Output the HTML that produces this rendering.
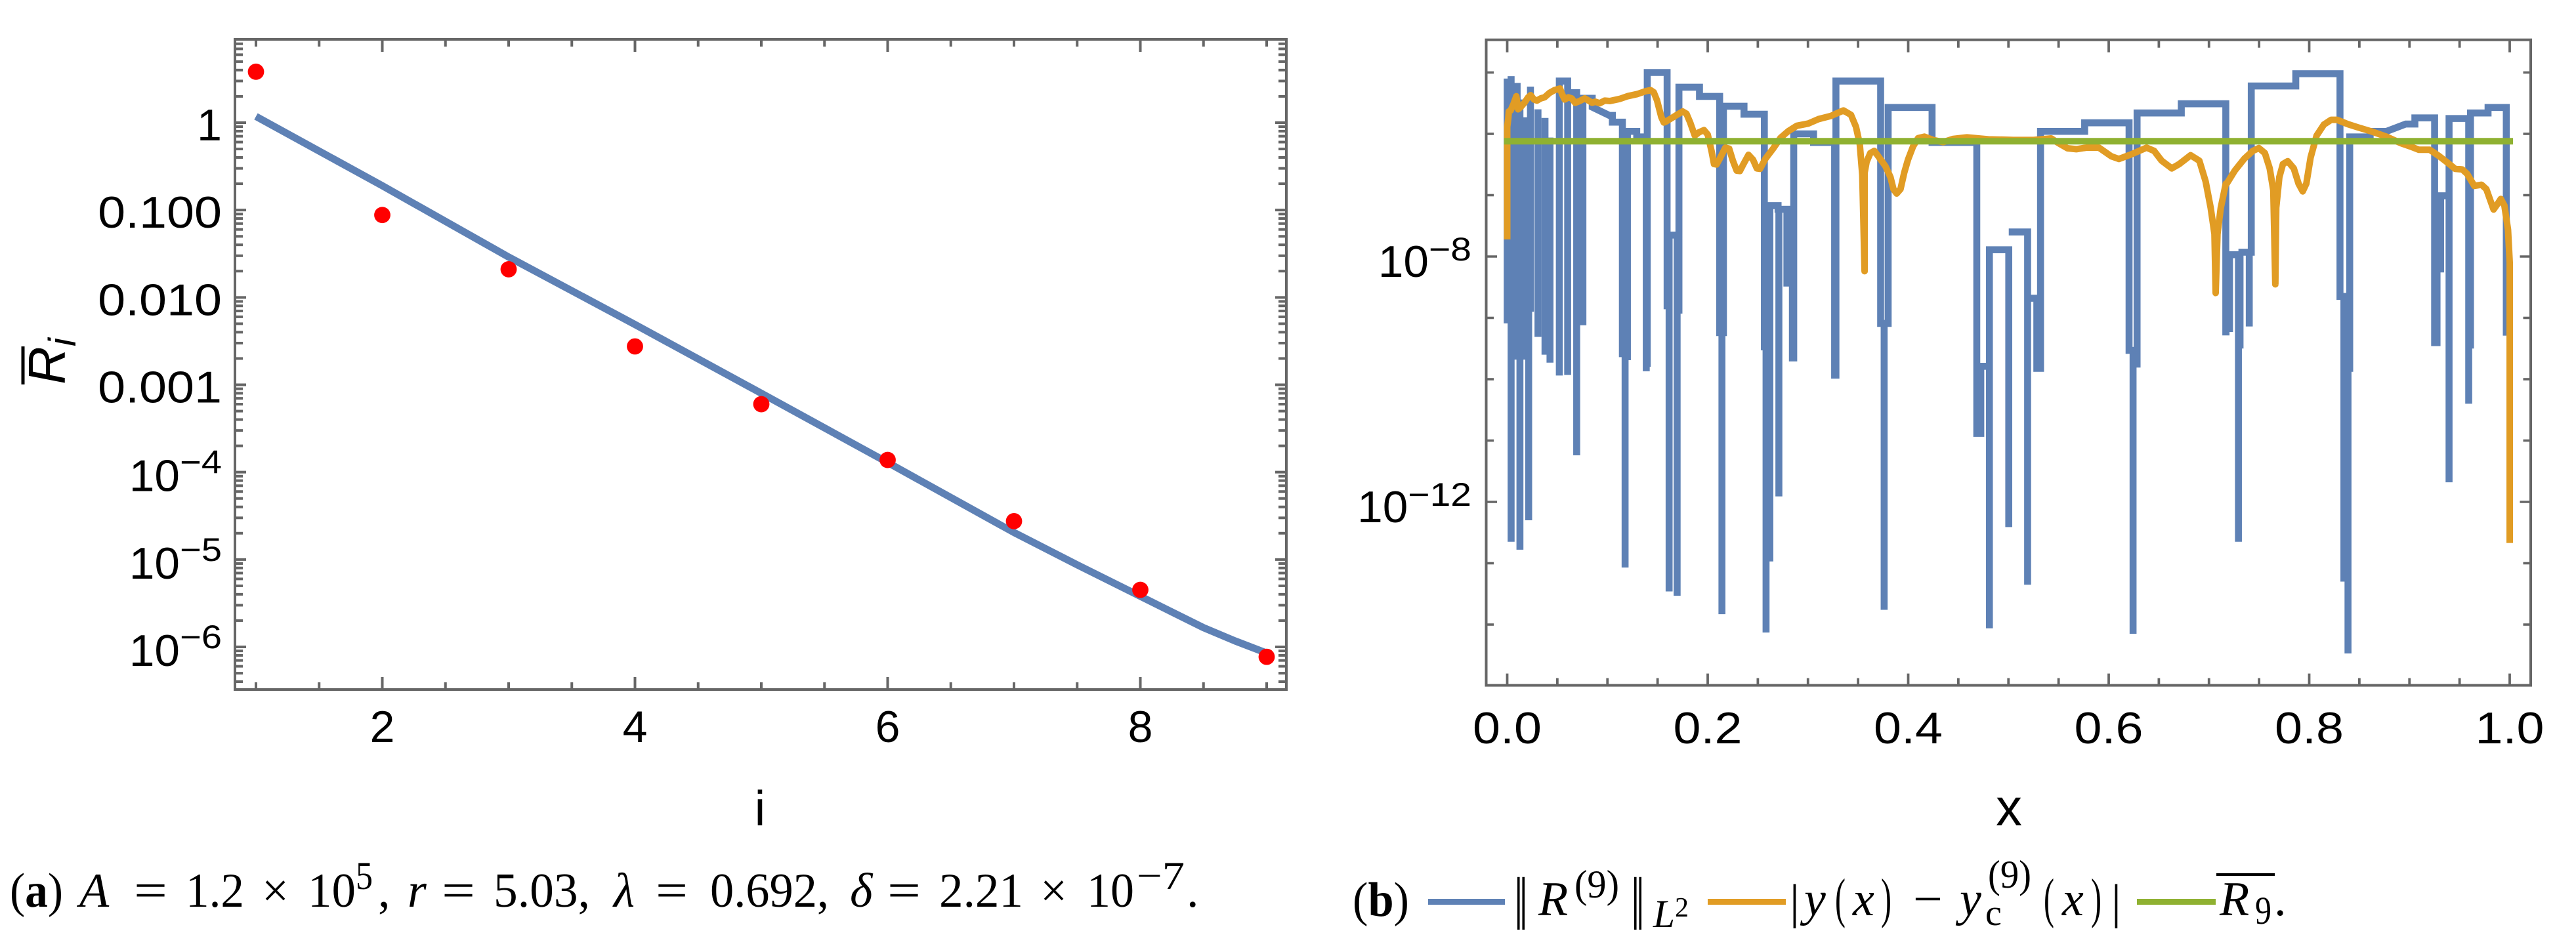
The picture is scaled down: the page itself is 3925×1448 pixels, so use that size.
<!DOCTYPE html>
<html lang="en">
<head>
<meta charset="utf-8">
<title>Residual decay and error charts</title>
<style>
html,body{margin:0;padding:0;background:#fff;width:3925px;height:1448px;overflow:hidden}
svg{position:absolute;left:0;top:0;display:block}
.cap{font-family:"Liberation Serif",serif;font-size:74px;fill:#000}
.it{font-style:italic}
</style>
</head>
<body>
<svg id="fig" xmlns="http://www.w3.org/2000/svg" width="3925" height="1448" viewBox="0 0 3925 1448">
<rect x="0" y="0" width="3925" height="1448" fill="#fff"/>
<g id="panelA"></g>
<g id="panelB"></g>

<g transform="translate(99,586) rotate(-90)">
  <line x1="0" x2="58" y1="-64" y2="-64" stroke="#000" stroke-width="5"/>
  <text x="0" y="0" font-family="'Liberation Sans',sans-serif" font-style="italic" font-size="80">R</text>
  <text x="58" y="16" font-family="'Liberation Sans',sans-serif" font-style="italic" font-size="58">i</text>
</g>
<text x="1158" y="1258" text-anchor="middle" font-family="'Liberation Sans',sans-serif" font-size="75">i</text>
<text x="3061" y="1258" text-anchor="middle" font-family="'Liberation Sans',sans-serif" font-size="80">x</text>

<g class="cap">
  <text x="15" y="1382" textLength="81" lengthAdjust="spacingAndGlyphs">(<tspan font-weight="bold">a</tspan>)</text>
  <text x="121" y="1382" class="it">A</text>
  <text x="204" y="1382" textLength="51" lengthAdjust="spacingAndGlyphs">=</text>
  <text x="283" y="1382" textLength="89" lengthAdjust="spacingAndGlyphs">1.2</text>
  <text x="399" y="1382" textLength="41" lengthAdjust="spacingAndGlyphs">×</text>
  <text x="469" y="1382" textLength="73" lengthAdjust="spacingAndGlyphs">10</text>
  <text x="542" y="1355" font-size="60" textLength="26" lengthAdjust="spacingAndGlyphs">5</text>
  <text x="576" y="1382">,</text>
  <text x="621" y="1382" class="it">r</text>
  <text x="673" y="1382" textLength="51" lengthAdjust="spacingAndGlyphs">=</text>
  <text x="752" y="1382" textLength="147" lengthAdjust="spacingAndGlyphs">5.03,</text>
  <text x="935" y="1382" class="it">λ</text>
  <text x="999" y="1382" textLength="49" lengthAdjust="spacingAndGlyphs">=</text>
  <text x="1082" y="1382" textLength="181" lengthAdjust="spacingAndGlyphs">0.692,</text>
  <text x="1295" y="1382" class="it">δ</text>
  <text x="1352" y="1382" textLength="51" lengthAdjust="spacingAndGlyphs">=</text>
  <text x="1431" y="1382" textLength="128" lengthAdjust="spacingAndGlyphs">2.21</text>
  <text x="1585" y="1382" textLength="41" lengthAdjust="spacingAndGlyphs">×</text>
  <text x="1656" y="1382" textLength="72" lengthAdjust="spacingAndGlyphs">10</text>
  <text x="1732" y="1355" font-size="60" textLength="73" lengthAdjust="spacingAndGlyphs">−7</text>
  <text x="1808" y="1382">.</text>
</g>

<g class="cap">
  <text x="2061" y="1396" textLength="86" lengthAdjust="spacingAndGlyphs">(<tspan font-weight="bold">b</tspan>)</text>
  <line x1="2176" x2="2293" y1="1374.5" y2="1374.5" stroke="#5E81B5" stroke-width="9"/>
  <text x="2307" y="1417" font-size="115" textLength="21" lengthAdjust="spacingAndGlyphs">‖</text>
  <text x="2344" y="1395" class="it">R</text>
  <text x="2399" y="1368" font-size="60" textLength="68" lengthAdjust="spacingAndGlyphs">(9)</text>
  <text x="2485" y="1417" font-size="115" textLength="21" lengthAdjust="spacingAndGlyphs">‖</text>
  <text x="2519" y="1413" font-size="60" class="it" textLength="33" lengthAdjust="spacingAndGlyphs">L</text>
  <text x="2552" y="1397" font-size="42">2</text>
  <line x1="2602" x2="2721" y1="1374.5" y2="1374.5" stroke="#E19C24" stroke-width="9"/>
  <text x="2727" y="1399">|</text>
  <text x="2749" y="1395" class="it">y</text>
  <text x="2796" y="1397" font-size="84" textLength="16" lengthAdjust="spacingAndGlyphs">(</text>
  <text x="2823" y="1395" class="it">x</text>
  <text x="2866" y="1397" font-size="84" textLength="16" lengthAdjust="spacingAndGlyphs">)</text>
  <text x="2915" y="1395" textLength="45" lengthAdjust="spacingAndGlyphs">−</text>
  <text x="2986" y="1395" class="it">y</text>
  <text x="3025" y="1410" font-size="56">c</text>
  <text x="3029" y="1353" font-size="60" textLength="66" lengthAdjust="spacingAndGlyphs">(9)</text>
  <text x="3114" y="1397" font-size="84" textLength="16" lengthAdjust="spacingAndGlyphs">(</text>
  <text x="3142" y="1395" class="it">x</text>
  <text x="3186" y="1397" font-size="84" textLength="16" lengthAdjust="spacingAndGlyphs">)</text>
  <text x="3217" y="1399">|</text>
  <line x1="3256" x2="3376" y1="1374.5" y2="1374.5" stroke="#8FB131" stroke-width="9"/>
  <line x1="3377" x2="3466" y1="1333" y2="1333" stroke="#000" stroke-width="4"/>
  <text x="3382" y="1395" class="it">R</text>
  <text x="3436" y="1408" font-size="60" textLength="25" lengthAdjust="spacingAndGlyphs">9</text>
  <text x="3465" y="1395">.</text>
</g>
</svg>

<script>
// Panel (a) data
const pointIndex = [1, 2, 3, 4, 5, 6, 7, 8, 9];
const pointValue = [3.83, 0.0878, 0.021, 0.00275, 0.0006, 0.000138, 0.0000275, 0.0000045, 0.00000077];
const curveIndex = [1, 2, 3, 4, 5, 6, 7, 7.5, 8, 8.25, 8.5, 8.75, 9];
const curveValue = [1.18, 0.19, 0.029, 0.0049, 0.0008, 0.000129, 0.0000204, 0.0000087, 0.0000038, 0.00000251, 0.00000166, 0.00000117, 0.00000085];
const aXMajor = [2, 4, 6, 8];
const aXMinor = [1, 1.5, 2.5, 3, 3.5, 4.5, 5, 5.5, 6.5, 7, 7.5, 8.5, 9];
const aYMajor = [0, -1, -2, -3, -4, -5, -6];
const aYBase = ['1', '0.100', '0.010', '0.001', '10', '10', '10'];
const aYPower = ['', '', '', '', '−4', '−5', '−6'];

// Panel (b) data: residual step line (log10), null breaks the line
const stepX = [
0,0,.0039,null,
.0039,.0039,null,
.0099,.0099,null,
.0127,.0127,null,
.0172,.0172,null,
.0214,.0214,null,
.0232,.0232,null,
.0307,.0307,null,
.0377,.0377,null,
.0427,.0427,null,
.052,.052,.0603,.0603,null,
.0603,.0693,.0693,null,
.0693,.0848,.0848,.1019,.1049,.1049,.1149,.1149,null,
.0755,.0755,null,
.1176,.1176,null,
.1199,.1199,null,
.1149,.1292,.1292,.1387,.1387,null,
.1397,.1397,.1595,.1595,null,
.1615,.1615,null,
.1595,.1713,null,
.1695,.1695,null,
.1713,.1713,.1918,.1918,.2119,.2119,.2157,.2157,.2362,.2362,.2565,.2565,null,
.2142,.2142,null,
.2582,.2582,null,
.262,.262,null,
.2565,.2702,.2702,.279,.279,null,
.271,.271,null,
.2845,.2845,null,
.2858,.2858,.3056,.3056,.3266,.3266,null,
.3279,.3279,.3725,.3725,.38,.38,.4238,.4238,.4684,.4684,null,
.376,.376,null,
.4724,.4724,null,
.4684,.481,null,
.481,.481,.5003,.5003,null,
.5003,.5191,.5191,null,
.5191,.5283,.5283,null,
.532,.532,.576,.576,.6203,.6203,.6283,.6283,.6724,.6724,.7168,.7168,.7205,null,
.6283,.6283,null,
.6243,.6243,null,
.7205,.7205,null,
.7168,.7294,null,
.7294,.7294,null,
.731,.731,null,
.7402,.7402,null,
.7294,.7422,.7422,.7866,.7866,.8307,.8307,.8404,.8404,.8608,.8608,.8771,.8963,.9054,.9054,.9251,.9251,null,
.8346,.8346,null,
.8387,.8387,null,
.8404,.8404,null,
.9275,.9275,.9395,.9395,.9395,.9591,.9591,null,
.9311,.9311,null,
.9609,.9609,.9784,.9784,.9966,.9966
];
const stepLog = [
-9.09,-5.155,-5.155,null,
-5.06,-12.65,null,
-5.17,-9.68,null,
-5.44,-12.78,null,
-5.73,-9.68,null,
-6.0,-12.30,null,
-5.23,-8.9,null,
-5.60,-9.31,null,
-5.74,-9.60,null,
-6.06,-9.73,null,
-9.94,-5.14,-5.14,-9.93,null,
-5.33,-5.33,-11.24,null,
-5.42,-5.42,-5.565,-5.70,-5.70,-5.81,-5.81,-9.64,null,
-5.42,-9.12,null,
-5.96,-13.07,null,
-5.96,-9.69,null,
-5.96,-5.96,-6.05,-6.05,-9.87,null,
-9.8,-5.0,-5.0,-8.86,null,
-7.65,-13.46,null,
-7.65,-7.65,null,
-7.65,-13.53,null,
-8.93,-5.24,-5.24,-5.39,-5.39,-9.24,-9.24,-5.55,-5.55,-5.68,-5.68,-9.53,null,
-9.24,-13.83,null,
-7.17,-14.13,null,
-7.17,-12.97,null,
-7.17,-7.17,-7.23,-7.23,-8.49,null,
-7.2,-11.91,null,
-8,-9.71,null,
-9.71,-6.0,-6.0,-6.14,-6.14,-9.99,null,
-9.99,-5.14,-5.14,-9.09,-9.09,-5.57,-5.57,-6.14,-6.14,-10.94,null,
-9.09,-13.76,null,
-9.79,-10.94,null,
-9.79,-9.79,null,
-14.06,-7.89,-7.89,-12.41,null,
-7.60,-7.60,-13.35,null,
-8.68,-8.68,-9.88,null,
-9.88,-5.96,-5.96,-5.82,-5.82,-9.53,-9.53,-5.66,-5.66,-5.51,-5.51,-9.23,-9.23,null,
-9.53,-9.81,null,
-9.53,-14.15,null,
-7.97,-9.23,null,
-7.97,-7.97,null,
-7.93,-12.65,null,
-7.93,-9.5,null,
-7.9,-9.14,null,
-7.93,-7.93,-5.22,-5.22,-5.02,-5.02,-8.65,-8.65,-6.05,-6.05,-5.96,-5.96,-5.84,-5.84,-5.74,-5.74,-9.46,null,
-8.65,-13.30,null,
-8.65,-14.47,null,
-8.65,-9.88,null,
-9.46,-7.01,-7.01,-11.68,-5.75,-5.75,-10.40,null,
-7.01,-8.26,null,
-9.5,-5.66,-5.66,-5.57,-5.57,-9.29
];
// Panel (b) data: pointwise error (log10)
const errorX = [
0,0,.0011,.0016,.0034,.0059,.0091,.0109,.0134,.0172,.0209,.0234,.0267,.0297,.0335,.0372,.0422,.0472,.0527,.0547,
.0573,.061,.0643,.0678,.0723,.0773,.0811,.0848,.0878,.0923,.0973,.1024,.1124,.1199,.1299,.1374,.1429,.1462,.1495,.1537,
.1562,.1587,.1675,.175,.1788,.1825,.1871,.1913,.1963,.2,.2038,.2063,.2088,.2121,.2176,.2214,.2251,.2289,.2321,.2357,
.2407,.2452,.249,.2522,.2577,.2652,.2727,.2803,.289,.3003,.3103,.3229,.3354,.3429,.3479,.3517,.3542,.3565,.3565,.3585,
.3622,.3662,.371,.3773,.3823,.3853,.3885,.3923,.396,.3998,.4048,.4098,.4161,.4249,.4349,.4449,.4586,.48,.505,.5251,
.5426,.5501,.5589,.5677,.5777,.5902,.6027,.6102,.6228,.6378,.6453,.6528,.6629,.6704,.6817,.6904,.6967,.7017,.7055,.7067,
.7085,.7118,.7168,.7177,.7258,.7354,.7438,.7498,.7558,.7606,.7642,.7662,.7671,.7702,.7738,.7786,.7846,.7894,.7935,.7971,
.8014,.8074,.8146,.8218,.8278,.8387,.8483,.8627,.8771,.8915,.9011,.9095,.9203,.9299,.9383,.9455,.9527,.9575,.9647,.9719,
.9767,.9839,.9875,.9911,.9947,.9983,1,1
];
const errorLog = [
-7.72,-5.886,-5.743,-5.636,-5.619,-5.529,-5.387,-5.60,-5.565,-5.494,-5.405,-5.369,-5.44,-5.458,-5.422,-5.405,-5.333,-5.287,-5.262,-5.351,
-5.44,-5.405,-5.422,-5.494,-5.465,-5.422,-5.458,-5.494,-5.476,-5.501,-5.458,-5.465,-5.43,-5.387,-5.351,-5.308,-5.287,-5.323,-5.458,-5.725,
-5.815,-5.797,-5.708,-5.636,-5.672,-5.815,-6.028,-5.975,-5.939,-6.011,-6.278,-6.492,-6.499,-6.403,-6.225,-6.242,-6.438,-6.599,-6.606,-6.492,
-6.342,-6.421,-6.563,-6.57,-6.403,-6.242,-6.064,-5.957,-5.868,-5.832,-5.761,-5.708,-5.619,-5.69,-5.886,-6.171,-6.67,-8.239,-6.635,-6.456,
-6.314,-6.278,-6.385,-6.528,-6.706,-6.902,-6.973,-6.902,-6.635,-6.421,-6.207,-6.071,-6.046,-6.1,-6.135,-6.082,-6.057,-6.089,-6.1,-6.1,
-6.075,-6.153,-6.235,-6.25,-6.225,-6.225,-6.367,-6.41,-6.332,-6.225,-6.278,-6.438,-6.563,-6.492,-6.349,-6.438,-6.777,-7.205,-7.633,-8.595,
-7.633,-7.205,-6.813,-6.813,-6.599,-6.403,-6.278,-6.232,-6.314,-6.563,-6.92,-8.453,-7.205,-6.706,-6.492,-6.446,-6.563,-6.813,-6.938,-6.813,
-6.385,-6.028,-5.85,-5.772,-5.772,-5.843,-5.893,-5.964,-6.046,-6.153,-6.207,-6.26,-6.26,-6.367,-6.474,-6.57,-6.581,-6.652,-6.848,-6.83,
-6.902,-7.234,-7.151,-7.062,-7.169,-7.561,-8.096,-12.67
];
const meanX = [0, 1];
const meanLog = [-6.12, -6.12];
const bXMajor = [0, 0.2, 0.4, 0.6, 0.8, 1];
const bXLabels = ['0.0', '0.2', '0.4', '0.6', '0.8', '1.0'];
const bXMinor = [0.05,0.1,0.15,0.25,0.3,0.35,0.45,0.5,0.55,0.65,0.7,0.75,0.85,0.9,0.95];
const bYMajor = [-8, -12];
const bYPower = ['−8', '−12'];
const bYMinor = [-5, -6, -7, -9, -10, -11, -13, -14];

const NS = 'http://www.w3.org/2000/svg';
const GRAY = '#666666';

// Axis functions
const aX = i => 390 + (i - 1) * 192.5;
const aY = v => 187 - 133.17 * Math.log10(v);
const bX = x => 2296.5 + x * 1527.5;
const bY = e => 391 - (e + 8) * 93.5;

function seg(parent, name, x1, y1, x2, y2, color, width) {
  const el = document.createElementNS(NS, 'line');
  
  
  el.setAttribute('x1', x1);
  el.setAttribute('y1', y1);
  el.setAttribute('x2', x2);
  el.setAttribute('y2', y2);
  el.setAttribute('stroke', color);
  el.setAttribute('stroke-width', width);
  parent.appendChild(el);
  return el;
}
function label(parent, name, x, y, str, size, anchor, stretch) {
  const el = document.createElementNS(NS, 'text');
  
  
  el.setAttribute('x', x);
  el.setAttribute('y', y);
  el.setAttribute('font-family', '"Liberation Sans",sans-serif');
  el.setAttribute('font-size', size);
  el.setAttribute('text-anchor', anchor);
  el.textContent = str;
  parent.appendChild(el);
  if (stretch !== 1) {
    el.setAttribute('lengthAdjust', 'spacingAndGlyphs');
    el.setAttribute('textLength', el.getComputedTextLength() * stretch);
  }
  return el;
}
function frame(parent, name, x, y, w, h) {
  const el = document.createElementNS(NS, 'rect');
  
  
  el.setAttribute('x', x);
  el.setAttribute('y', y);
  el.setAttribute('width', w);
  el.setAttribute('height', h);
  el.setAttribute('fill', 'none');
  el.setAttribute('stroke', GRAY);
  el.setAttribute('stroke-width', 4);
  parent.appendChild(el);
}
function trace(parent, name, xs, ys, color, sx, sy, width, join, cap) {
  let d = '';
  let pen = false;
  for (let k = 0; k < xs.length; k++) {
    if (xs[k] === null) { pen = false; continue; }
    d += (pen ? 'L' : 'M') + sx(xs[k]).toFixed(2) + ' ' + sy(ys[k]).toFixed(2);
    pen = true;
  }
  const el = document.createElementNS(NS, 'path');
  
  
  el.setAttribute('d', d);
  el.setAttribute('fill', 'none');
  el.setAttribute('stroke', color);
  el.setAttribute('stroke-width', width);
  el.setAttribute('stroke-linejoin', join);
  el.setAttribute('stroke-linecap', cap);
  parent.appendChild(el);
}

// ---------- Panel (a) ----------
const A = document.getElementById('panelA');
const aL = 358, aR = 1960, aT = 60, aB = 1051;
aXMinor.forEach(i => {
  seg(A, 'x-minor-tick-bottom', aX(i), aB, aX(i), aB - 11, GRAY, 4);
  seg(A, 'x-minor-tick-top', aX(i), aT, aX(i), aT + 11, GRAY, 4);
});
aXMajor.forEach(i => {
  seg(A, 'x-major-tick-bottom', aX(i), aB, aX(i), aB - 19, GRAY, 4);
  seg(A, 'x-major-tick-top', aX(i), aT, aX(i), aT + 19, GRAY, 4);
  label(A, 'x-tick-label', aX(i), 1131, String(i), 68, 'middle', 1);
});
for (let e = 0; e >= -7; e--) {
  for (let m = 2; m <= 9; m++) {
    const ty = aY(m * Math.pow(10, e));
    if (ty < aT + 3 || ty > aB - 6) continue;
    seg(A, 'y-minor-tick-left', aL, ty, aL + 12, ty, GRAY, 4);
    seg(A, 'y-minor-tick-right', aR, ty, aR - 12, ty, GRAY, 4);
  }
}
aYMajor.forEach((e, k) => {
  const ty = aY(Math.pow(10, e));
  seg(A, 'y-major-tick-left', aL, ty, aL + 17, ty, GRAY, 4);
  seg(A, 'y-major-tick-right', aR, ty, aR - 17, ty, GRAY, 4);
  if (aYPower[k]) {
    label(A, 'y-tick-label-base', 274, ty + 29, aYBase[k], 68, 'end', 1.02);
    label(A, 'y-tick-label-power', 338, ty + 2, aYPower[k], 50, 'end', 1.12);
  } else {
    label(A, 'y-tick-label', 338, ty + 27, aYBase[k], 68, 'end', aYBase[k].length > 1 ? 1.11 : 1);
  }
});
frame(A, 'plot-frame-a', aL, aT, aR - aL, aB - aT);
trace(A, 'fit-curve', curveIndex, curveValue, '#5E81B5', aX, aY, 11, 'round', 'butt');
pointIndex.forEach((i, k) => {
  const c = document.createElementNS(NS, 'circle');
  
  
  c.setAttribute('cx', aX(i));
  c.setAttribute('cy', aY(pointValue[k]));
  c.setAttribute('r', 12.4);
  c.setAttribute('fill', '#ff0000');
  A.appendChild(c);
});

// ---------- Panel (b) ----------
const B = document.getElementById('panelB');
const bL = 2264.5, bR = 3856, bT = 60.7, bB = 1044.6;
bXMinor.forEach(x => {
  seg(B, 'x-minor-tick-bottom', bX(x), bB, bX(x), bB - 11, GRAY, 3.8);
  seg(B, 'x-minor-tick-top', bX(x), bT, bX(x), bT + 12, GRAY, 3.8);
});
bXMajor.forEach((x, k) => {
  seg(B, 'x-major-tick-bottom', bX(x), bB, bX(x), bB - 18, GRAY, 3.8);
  seg(B, 'x-major-tick-top', bX(x), bT, bX(x), bT + 19, GRAY, 3.8);
  label(B, 'x-tick-label', bX(x), 1133, bXLabels[k], 68, 'middle', 1.11);
});
bYMinor.forEach(e => {
  seg(B, 'y-minor-tick-left', bL, bY(e), bL + 11.5, bY(e), GRAY, 3.6);
  seg(B, 'y-minor-tick-right', bR, bY(e), bR - 11.5, bY(e), GRAY, 3.6);
});
bYMajor.forEach((e, k) => {
  seg(B, 'y-major-tick-left', bL, bY(e), bL + 16.5, bY(e), GRAY, 3.6);
  seg(B, 'y-major-tick-right', bR, bY(e), bR - 16.5, bY(e), GRAY, 3.6);
  const supRight = 2242;
  const sup = label(B, 'y-tick-label-power', supRight, bY(e) + 6, bYPower[k], 50, 'end', 1.14);
  const baseRight = supRight - sup.getComputedTextLength();
  label(B, 'y-tick-label-base', baseRight, bY(e) + 31, '10', 68, 'end', 1.02);
});
frame(B, 'plot-frame-b', bL, bT, bR - bL, bB - bT);
trace(B, 'residual-norm-step-line', stepX, stepLog, '#5E81B5', bX, bY, 10.6, 'miter', 'butt');
trace(B, 'pointwise-error-line', errorX, errorLog, '#E19C24', bX, bY, 10, 'round', 'butt');
trace(B, 'mean-residual-line', meanX, meanLog, '#8FB131', bX, bY, 10, 'miter', 'square');
</script>
</body>
</html>
